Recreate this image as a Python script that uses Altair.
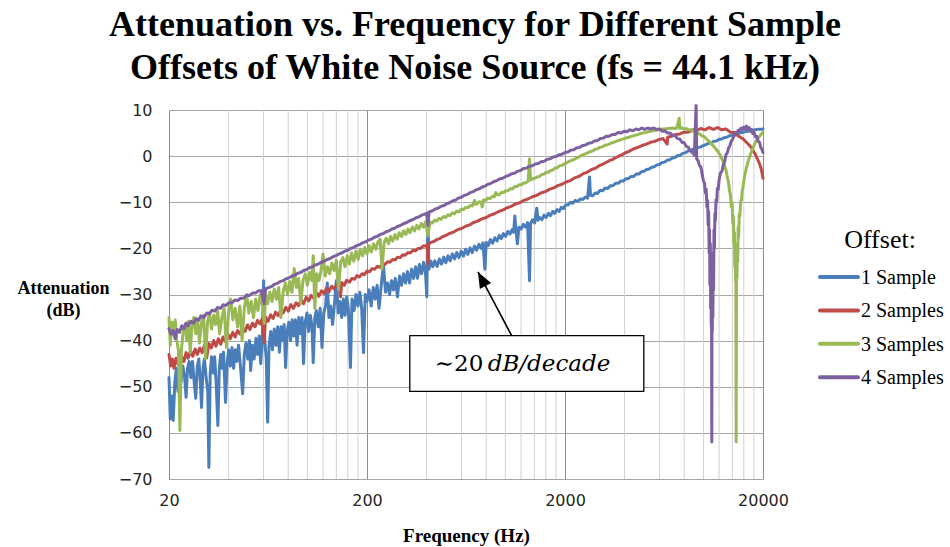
import altair as alt
import pandas as pd

# ---------------------------------------------------------------------------
# Measured attenuation (dB) versus frequency (Hz) for each sample offset
# ---------------------------------------------------------------------------
SERIES = ["1 Sample", "2 Samples", "3 Samples", "4 Samples"]
COLORS = ["#4A7EBB", "#BE4B48", "#98B954", "#7D60A0"]

OFFSET_1 = [
    (20, -48), (20.3, -57), (20.7, -52), (21.0, -57.3), (21.4, -49), (21.8, -46),
    (22.2, -51), (22.6, -46.5), (23.0, -49), (23.5, -45.5), (24.0, -48), (24.4, -52.3),
    (24.8, -46), (25.3, -44.5), (25.8, -48), (26.3, -44.5), (26.8, -49), (27.3, -52.5),
    (27.8, -45.5), (28.3, -44), (28.8, -49), (29.2, -54.5), (29.7, -46), (30.2, -44),
    (30.8, -48), (31.4, -51), (31.8, -67.5), (32.3, -47), (32.8, -43.5), (33.4, -47),
    (34.0, -43.5), (34.6, -49), (35.3, -58.4), (35.9, -46), (36.5, -43), (37.1, -46),
    (37.7, -42.5), (38.6, -53.4), (39.3, -45), (40.0, -42), (40.8, -45.5), (41.6, -41.5),
    (42.4, -46), (43.2, -42), (44.0, -44.5), (44.9, -41), (46.0, -46), (47.1, -51.5),
    (48.0, -43), (49.0, -40.5), (50.0, -44), (51.0, -40), (51.7, -46.5), (52.7, -41),
    (53.8, -44), (55.0, -39.5), (56.0, -43), (57.2, -39), (58.1, -45), (59.2, -39.5),
    (60.1, -27), (60.9, -40), (62.0, -44), (63.0, -57.7), (64.0, -41), (65.3, -38),
    (66.6, -42), (68.0, -37.5), (69.4, -41), (70.8, -37), (72.2, -42.5), (73.6, -37),
    (75.0, -40), (76.3, -36.5), (77.6, -45.8), (79.0, -38), (80.6, -36), (82.2, -40),
    (83.8, -35.5), (85.4, -39), (87.0, -35.5), (88.7, -41), (90.4, -35), (92.2, -38.5),
    (94.0, -35), (95.6, -45), (97.5, -36), (99.5, -34), (101.5, -38), (103.5, -34.5),
    (105.5, -37), (107, -44.8), (109, -35), (111, -33.5), (113.5, -37), (116, -33),
    (118.5, -41.5), (121, -34), (123.5, -32.5), (126, -27.5), (128.5, -35), (131, -32.5),
    (134, -36.5), (137, -32), (140, -27), (143, -34), (146, -31.5), (149, -35),
    (152, -31), (155, -34.5), (158, -30.5), (161, -33), (165, -45.8), (168, -31),
    (172, -33.5), (176, -30), (180, -32.5), (184, -29.5), (188, -33), (192, -42.6),
    (196, -30), (200, -31.5), (205, -29), (210, -32.5), (215, -28.5), (220, -31),
    (225, -28), (230, -33), (236, -28), (242, -23.4), (248, -29.5), (254, -27.5),
    (260, -30), (266, -27), (272, -29), (278, -26.5), (285, -30.5), (292, -26),
    (299, -28), (306, -25.5), (313, -27.5), (320, -25), (328, -27.5), (336, -24.5),
    (344, -26.5), (352, -24), (360, -26.5), (368, -23.5), (377, -25.5), (386, -23),
    (395, -25.5), (401, -30.5), (406, -12.3), (411, -24.5), (420, -22.8), (430, -24),
    (440, -22.7), (452, -23.9), (464, -22.3), (476, -23.4), (488, -21.9), (500, -23.1),
    (513, -21.6), (526, -22.7), (540, -21.2), (554, -22.3), (568, -20.9), (583, -22.0),
    (598, -20.6), (614, -21.7), (630, -20.2), (646, -21.3), (663, -19.9), (680, -20.9),
    (698, -19.5), (716, -20.4), (735, -19.1), (755, -20.0), (770, -18.8), (788, -24.5),
    (800, -18.7), (820, -19.4), (840, -18.1), (862, -18.9), (884, -17.7), (907, -18.4),
    (930, -17.2), (954, -17.9), (978, -16.8), (1003, -17.4), (1029, -16.3), (1055, -16.9),
    (1082, -15.9), (1100, -16.5), (1116, -13), (1130, -16), (1150, -19), (1170, -15.4),
    (1200, -15.8), (1230, -14.8), (1262, -15.4), (1294, -14.4), (1324, -27), (1340, -14.6),
    (1370, -13.8), (1405, -14.5), (1441, -11.3), (1460, -13.9), (1490, -13.3), (1528, -13.8),
    (1567, -12.8), (1607, -13.3), (1648, -12.4), (1690, -12.9), (1733, -12.0), (1777, -12.4),
    (1822, -11.6), (1868, -12), (1915, -11.1), (1963, -11.4), (2013, -10.6), (2070, -10.6),
    (2130, -10.0), (2190, -10.2), (2250, -9.6), (2320, -9.8), (2390, -9.3), (2460, -9.4),
    (2530, -8.9), (2600, -9.1), (2660, -4.5), (2690, -8.5), (2760, -8.6), (2840, -8.0),
    (2920, -8.1), (3010, -7.4), (3100, -7.5), (3190, -6.9), (3290, -7.0), (3390, -6.4),
    (3490, -6.4), (3600, -5.9), (3710, -5.9), (3820, -5.4), (3940, -5.4), (4060, -4.9),
    (4180, -4.9), (4310, -4.4), (4440, -4.4), (4580, -3.9), (4720, -3.9), (4860, -3.4),
    (5010, -3.3), (5160, -2.9), (5320, -2.8), (5480, -2.4), (5650, -2.3), (5820, -1.9),
    (6000, -1.8), (6180, -1.4), (6370, -1.3), (6560, -0.9), (6760, -0.8), (6970, -0.4),
    (7180, -0.3), (7400, 0.1), (7630, 0.2), (7860, 0.6), (8100, 0.7), (8350, 1.1),
    (8600, 1.2), (8870, 1.5), (9140, 1.6), (9420, 1.9), (9700, 2.0), (10000, 2.3),
    (10300, 2.5), (10620, 2.8), (10950, 2.9), (11280, 3.2), (11630, 3.3), (11980, 3.6),
    (12350, 3.7), (12730, 4.0), (13120, 4.1), (13520, 4.4), (13930, 4.5), (14360, 4.7),
    (14800, 4.8), (15250, 5.0), (15720, 5.1), (16200, 5.3), (16700, 5.4), (17210, 5.5),
    (17740, 5.6), (18280, 5.7), (18840, 5.8), (19420, 5.8), (20000, 5.9),
]

OFFSET_2 = [
    (20, -43), (20.4, -45.5), (20.8, -44), (21.2, -46), (21.7, -43.8), (22.2, -45),
    (22.7, -46), (23.2, -43.5), (23.8, -44.5), (24.4, -42.6), (25, -43.8), (25.7, -42.2),
    (26.4, -43.4), (27.1, -41.8), (27.8, -43), (28.6, -41.6), (29.4, -42.6), (30.2, -41),
    (31, -43.8), (31.8, -40.6), (32.7, -41.6), (33.6, -40), (34.5, -41.2), (35.5, -39.6),
    (36.5, -40.8), (37.5, -39.2), (38.6, -40.2), (39.7, -38.6), (40.8, -39.6), (42, -38.2),
    (43.2, -39.2), (44.4, -37.8), (45.7, -38.6), (47, -37.2), (48.4, -38), (49.8, -36.6),
    (51.3, -37.6), (52.8, -36.2), (54.4, -37), (56, -35.6), (57.6, -36.4), (59.3, -35.2),
    (60.5, -40.4), (61.5, -34.8), (63.3, -35.8), (65.2, -34.4), (67.1, -35.2), (69.1, -33.8),
    (71.2, -34.6), (73.3, -33.4), (75.5, -34), (77.8, -32.8), (80.1, -33.6), (82.5, -32.2),
    (85, -33), (87.6, -31.8), (90.2, -32.4), (92.9, -31.2), (95.7, -32), (98.6, -30.6),
    (101.5, -31.4), (104.5, -30.2), (107.7, -30.8), (110.9, -29.6), (114.2, -30.4),
    (117.7, -29.2), (121.2, -29.8), (124.8, -28.6), (128.6, -29.4), (132.5, -28.2),
    (136.4, -28.8), (140.5, -27.8), (144.7, -28.4), (147, -30.5), (149, -27.4),
    (153.5, -28), (158, -26.9), (163, -27.3), (168, -26.5), (173, -26.7), (178, -25.9),
    (183, -26.2), (189, -25.5), (194, -25.7), (200, -24.9), (206, -25.1), (212, -24.4),
    (219, -24.5), (225, -23.9), (232, -24.1), (239, -23.4), (246, -23.5), (254, -22.9),
    (261, -23), (269, -22.4), (277, -22.5), (286, -21.9), (294, -22), (303, -21.4),
    (312, -21.5), (322, -20.9), (331, -21), (341, -20.4), (352, -20.5), (362, -20.0),
    (373, -20), (384, -19.5), (396, -19.5), (403, -19.2), (406, -23.4), (410, -19),
    (420, -18.7), (435, -18.5), (450, -18.1), (465, -17.9), (480, -17.5), (500, -17.2),
    (520, -16.8), (545, -16.5), (570, -16.0), (600, -15.7), (630, -15.2), (660, -14.9),
    (690, -14.4), (725, -14.1), (760, -13.6), (800, -13.3), (840, -12.8), (880, -12.5),
    (925, -12.0), (970, -11.7), (1020, -11.2), (1070, -10.9), (1120, -10.4), (1180, -10.1),
    (1240, -9.6), (1300, -9.3), (1370, -8.8), (1440, -8.5), (1510, -8.0), (1590, -7.7),
    (1670, -7.2), (1750, -6.9), (1840, -6.4), (1930, -6.1), (2030, -5.6), (2130, -5.3),
    (2240, -4.7), (2350, -4.4), (2470, -3.8), (2590, -3.5), (2720, -2.9), (2860, -2.6),
    (3000, -2.0), (3150, -1.6), (3310, -1.1), (3480, -0.7), (3650, -0.2), (3840, 0.2),
    (4030, 0.7), (4230, 1.1), (4450, 1.6), (4670, 1.9), (4900, 2.3), (5150, 2.6),
    (5400, 3.0), (5670, 3.2), (5960, 3.6), (6260, 3.8), (6566, 2.6), (6600, 4.1),
    (6900, 4.3), (7250, 4.7), (7600, 4.8), (7980, 5.2), (8380, 5.2), (8800, 5.7),
    (9240, 5.5), (9700, 6.0), (10190, 5.7), (10700, 6.2), (11230, 5.8), (11790, 6.2),
    (12380, 5.7), (13000, 5.9), (13650, 5.2), (14330, 5.1), (15050, 4.3), (15800, 3.8),
    (16590, 2.9), (17420, 1.9), (18290, 0.4), (19200, -1.6), (19600, -2.8), (20000, -4.8),
]

OFFSET_3 = [
    (20, -35), (20.3, -41), (20.7, -36), (21.1, -38), (21.5, -35.5), (21.9, -40),
    (22.3, -42), (22.7, -59.5), (23.1, -42), (23.6, -38), (24.1, -36.5), (24.6, -40),
    (25.1, -35.8), (25.6, -42.6), (26.1, -37), (26.7, -35), (27.3, -38.5), (27.9, -35.5),
    (28.5, -40.5), (29.2, -36), (29.9, -34.5), (30.6, -43.9), (31.3, -36), (32, -34),
    (32.8, -37.5), (33.6, -34.5), (34.4, -36.5), (35.2, -33.5), (36, -38.5), (37, -35),
    (38, -33), (39, -41.5), (40, -33.5), (41, -31), (42, -35.5), (43.2, -33),
    (44.4, -37), (45.6, -32.5), (46.8, -40), (48, -33), (49.3, -30), (50.6, -34),
    (52, -31.5), (53.4, -35), (54.8, -31), (56.3, -33.5), (57.8, -30), (59.4, -32.5),
    (60.5, -36.3), (61.5, -30), (63, -32), (64.6, -29.5), (66.3, -31.5), (68, -28.8),
    (69.8, -31), (71.6, -28.5), (73.5, -35), (75.4, -29.5), (77.4, -27.5), (79.4, -30),
    (81.5, -27.2), (83.6, -29.5), (85.8, -24.4), (88, -28.5), (90.3, -26.5), (92.6, -32),
    (95, -27), (97.5, -25.5), (100, -28), (102.6, -25.2), (105.3, -27), (107, -21.6),
    (109, -33), (111.5, -25.5), (114.4, -27), (117.4, -24.6), (120, -21.2), (123, -26),
    (126.3, -24), (129.6, -25.5), (133, -23.2), (136.5, -24.8), (140, -22.6), (143.6, -29),
    (147.3, -23), (151, -22), (155, -24), (159, -21.6), (163, -23.4), (167, -21),
    (171.5, -22.8), (176, -20.6), (180.5, -22.4), (185, -20.2), (190, -21.6), (195, -19.8),
    (200, -21.2), (205, -19.4), (210, -20.8), (216, -19), (222, -20.2), (227, -18.6),
    (233, -18), (238, -24.5), (244, -18.8), (250, -17.8), (257, -19), (263, -17.4),
    (270, -18.4), (277, -17), (284, -18), (291, -16.6), (299, -17.4), (306, -16.2),
    (314, -17), (322, -15.8), (330, -16.6), (339, -15.4), (348, -16.2), (357, -15),
    (366, -15.8), (376, -14.6), (386, -15.4), (396, -14.2), (406, -17.3), (416, -14.3),
    (427, -14.5), (438, -13.9), (450, -14.1), (462, -13.5), (474, -13.7), (486, -13.1),
    (499, -13.3), (512, -12.7), (525, -12.9), (539, -12.3), (553, -12.5), (568, -11.9),
    (583, -12.1), (598, -11.5), (614, -11.6), (630, -11.1), (646, -11.2), (663, -10.7),
    (681, -10.8), (699, -9.6), (705, -10.4), (717, -10.4), (736, -9.9), (755, -10.0),
    (763, -11.0), (775, -9.5), (795, -9.6), (816, -9.1), (838, -9.2), (860, -8.7),
    (882, -8.8), (893, -7.9), (905, -8.3), (929, -8.4), (954, -7.9), (979, -7.9),
    (1005, -7.5), (1031, -7.5), (1058, -7.1), (1086, -7.1), (1115, -6.6), (1144, -6.6),
    (1174, -6.2), (1205, -6.2), (1237, -5.8), (1269, -5.8), (1303, -5.4), (1324, -0.6),
    (1340, -5.2), (1375, -4.9), (1411, -4.8), (1448, -4.5), (1486, -4.4), (1525, -4.0),
    (1565, -3.9), (1607, -3.5), (1649, -3.5), (1692, -3.1), (1737, -3.0), (1783, -2.6),
    (1830, -2.5), (1878, -2.1), (1927, -2.0), (1978, -1.7), (2030, -1.5), (2084, -1.2),
    (2139, -1.0), (2195, -0.8), (2253, -0.6), (2312, -0.3), (2373, -0.1), (2436, 0.2),
    (2500, 0.4), (2566, 0.6), (2633, 0.8), (2703, 1.0), (2774, 1.2), (2847, 1.5),
    (2922, 1.6), (3000, 1.9), (3080, 2.0), (3160, 2.3), (3240, 2.4), (3330, 2.6),
    (3420, 2.8), (3510, 3.0), (3600, 3.1), (3700, 3.4), (3800, 3.5), (3900, 3.7),
    (4000, 3.8), (4110, 4.0), (4220, 4.1), (4330, 4.3), (4450, 4.4), (4570, 4.6),
    (4690, 4.7), (4810, 4.9), (4940, 5.0), (5070, 5.1), (5210, 5.2), (5350, 5.4),
    (5490, 5.4), (5640, 5.6), (5790, 5.6), (5940, 5.8), (6100, 5.8), (6260, 5.9),
    (6430, 5.9), (6600, 6.0), (6780, 6.0), (6960, 6.1), (7150, 6.0), (7340, 6.1),
    (7550, 8.2), (7600, 6.0), (7750, 6.2), (7960, 5.9), (8170, 6.0), (8390, 5.7),
    (8620, 5.7), (8850, 5.4), (9090, 5.3), (9330, 5.0), (9580, 4.8), (9840, 4.4),
    (10100, 4.2), (10370, 3.7), (10650, 3.3), (10940, 2.8), (11230, 2.2), (11530, 1.6),
    (11840, 1.0), (12160, 0.2), (12490, -0.9), (12820, -2.1), (13000, -3), (13200, -4.5),
    (13380, -5.6), (13550, -7.5), (13700, -8.5), (13840, -11), (13960, -10), (14070, -14.5),
    (14170, -13), (14260, -19), (14340, -16.5), (14410, -24), (14470, -20), (14530, -27),
    (14580, -23), (14640, -62), (14680, -27), (14730, -22), (14780, -26.5), (14830, -19),
    (14900, -23), (14980, -15.5), (15070, -17.5), (15180, -12.5), (15300, -13), (15430, -9.8),
    (15570, -9.5), (15720, -7.4), (15880, -6.5), (16050, -5), (16250, -3.8), (16500, -2.5),
    (16750, -1.4), (17000, -0.5), (17250, 0.3), (17500, 1), (17800, 1.8), (18100, 2.5),
    (18400, 3.1), (18700, 3.6), (19000, 4), (19300, 4.4), (19650, 4.8), (20000, 5.2),
]

OFFSET_4 = [
    (20, -37.4), (20.5, -38.6), (21, -37.8), (21.5, -39.6), (22, -37.6), (22.6, -38.2),
    (23.2, -36.8), (23.8, -37.4), (24.4, -36.2), (25, -36.8), (25.8, -35.8), (26.6, -36.2),
    (27.4, -35.2), (28.2, -35.6), (29, -34.6), (30, -35), (31, -34), (32, -34.2),
    (33, -33.4), (34, -33.6), (35.2, -32.8), (36.4, -33), (37.6, -32.2), (38.8, -32.4),
    (40, -31.8), (41.5, -31.8), (43, -31.2), (44.5, -31.3), (46, -30.8), (47.6, -30.8),
    (49.3, -30.2), (51, -30.2), (52.8, -29.7), (54.6, -29.7), (56.5, -29.2), (58.5, -29.2),
    (60.5, -32), (61.5, -28.8), (63.6, -28.5), (65.8, -28.3), (68, -27.8), (70.4, -27.6),
    (72.8, -27.2), (75.3, -27), (78, -26.6), (80.7, -26.4), (83.5, -26), (86.4, -25.8),
    (89.4, -25.4), (92.5, -25.2), (95.7, -24.8), (99, -24.6), (102.5, -24.2), (106, -24),
    (109.7, -23.6), (113.5, -23.4), (117.5, -23), (121.6, -22.8), (125.8, -22.4),
    (130.2, -22.2), (134.7, -21.8), (139.4, -21.6), (144.3, -21.2), (149.3, -21),
    (154.5, -20.6), (160, -20.4), (165.5, -20), (171.3, -19.8), (177.2, -19.4),
    (183.4, -19.2), (189.8, -18.8), (196.4, -18.6), (203.3, -18.2), (210.4, -18),
    (217.7, -17.6), (225.3, -17.4), (233.2, -17), (241.3, -16.8), (249.7, -16.4),
    (258.4, -16.2), (267.4, -15.8), (276.8, -15.6), (286.4, -15.2), (296.4, -15),
    (306.8, -14.6), (317.5, -14.4), (328.5, -14), (340, -13.8), (351.9, -13.4),
    (364.2, -13.2), (376.9, -12.8), (390, -12.6), (400, -12.4), (406, -15), (412, -12.1),
    (426, -11.9), (441, -11.5), (456, -11.3), (472, -10.9), (489, -10.7), (506, -10.3),
    (523, -10.1), (542, -9.7), (561, -9.5), (580, -9.1), (600, -8.9), (621, -8.5),
    (643, -8.3), (665, -7.9), (688, -7.7), (712, -7.3), (737, -7.1), (763, -6.7),
    (790, -6.5), (817, -6.1), (846, -5.9), (875, -5.5), (906, -5.3), (938, -4.9),
    (970, -4.8), (1004, -4.4), (1039, -4.2), (1076, -3.8), (1113, -3.7), (1152, -3.3),
    (1193, -3.1), (1234, -2.7), (1277, -2.6), (1322, -2.2), (1368, -2.1), (1416, -1.7),
    (1466, -1.6), (1517, -1.2), (1570, -1.1), (1625, -0.7), (1682, -0.6), (1741, -0.2),
    (1802, -0.1), (1865, 0.3), (1930, 0.4), (1998, 0.8), (2068, 0.9), (2140, 1.3),
    (2215, 1.4), (2292, 1.8), (2372, 1.9), (2455, 2.3), (2541, 2.4), (2630, 2.8),
    (2722, 2.9), (2818, 3.3), (2916, 3.4), (3018, 3.8), (3124, 3.9), (3233, 4.3),
    (3346, 4.3), (3463, 4.7), (3585, 4.7), (3710, 5.1), (3840, 5), (3974, 5.4),
    (4113, 5.3), (4257, 5.7), (4406, 5.5), (4560, 5.9), (4720, 5.7), (4885, 6.1),
    (5056, 5.8), (5233, 6.1), (5416, 5.9), (5605, 6.1), (5800, 5.8), (6000, 5.9),
    (6200, 5.4), (6400, 5.5), (6600, 5), (6800, 5), (7000, 4.5), (7200, 4.4),
    (7400, 3.8), (7600, 3.7), (7800, 3), (8000, 2.9), (8200, 2.1), (8400, 1.9),
    (8600, 1.1), (8800, 0.8), (9000, 0.2), (9185, 11), (9250, -0.6), (9400, -1),
    (9550, -2), (9700, -2.3), (9850, -3.8), (10000, -5.4), (10120, -5.8), (10230, -8),
    (10330, -7.2), (10420, -11), (10500, -9.6), (10570, -15), (10630, -12), (10690, -21),
    (10740, -16), (10790, -28), (10840, -19), (10880, -33), (10920, -24), (10960, -37),
    (10995, -30), (11025, -62), (11055, -31), (11090, -38), (11130, -25), (11170, -35),
    (11210, -21), (11260, -29), (11310, -16), (11370, -20), (11430, -12.5), (11500, -14),
    (11580, -9.5), (11670, -10), (11770, -7), (11880, -7.2), (12000, -5.2), (12200, -3.6),
    (12400, -3.3), (12600, -1.9), (12800, -1.2), (13000, 0.3), (13200, 0.7), (13400, 1.8),
    (13600, 2.2), (13800, 3.2), (14000, 3.5), (14200, 4.2), (14400, 4.5), (14600, 5.1),
    (14800, 5.1), (15000, 5.6), (15250, 5.5), (15500, 6.1), (15750, 5.8), (16000, 6.3),
    (16250, 5.9), (16500, 6.5), (16750, 5.8), (17000, 6.2), (17250, 5.4), (17500, 5.8),
    (17750, 4.9), (18000, 5.2), (18300, 4.2), (18600, 4.3), (18900, 3.2), (19200, 3),
    (19500, 1.9), (19750, 1.5), (20000, 0.8),
]

# Axis ranges and gridlines
F_MIN, F_MAX = 20, 20000
DB_MIN, DB_MAX = -70, 10
MAJOR_F = [20, 200, 2000, 20000]
MINOR_F = [m * d for d in (20, 200, 2000) for m in range(2, 10)]
DB_TICKS = list(range(DB_MIN, DB_MAX + 1, 10))

# Slope annotation (frequency / dB coordinates)
NOTE_BOX = {"f0": 329, "f1": 5000, "d0": -38.9, "d1": -51.0}
NOTE_Y = -45.1
NOTE_PREFIX = ("\u223c20", 440)
NOTE_UNITS = ("dB/decade", 814)
ARROW = {"f0": 1072, "d0": -38.8, "f1": 727, "d1": -25.1}

# ---------------------------------------------------------------------------
rows = []
for name, pts in zip(SERIES, [OFFSET_1, OFFSET_2, OFFSET_3, OFFSET_4]):
    for f, v in pts:
        rows.append({"series": name, "freq": f, "db": v})
df = pd.DataFrame(rows)

W, H = 594, 369
SERIF = "Liberation Serif"
SANS = "DejaVu Sans"

x_scale = alt.Scale(type="log", domain=[F_MIN, F_MAX], nice=False)
y_scale = alt.Scale(domain=[DB_MIN, DB_MAX], nice=False, zero=False)

# One axis definition shared by every layer so the merged axis stays visible
x_axis = alt.Axis(
    values=MAJOR_F, format="d", title="Frequency (Hz)",
    grid=True, gridColor="#8c8c8c", gridWidth=1,
    domain=False, ticks=False, labelFlush=False, labelOverlap=False, labelBound=False,
    labelFont=SANS, labelFontSize=16, labelColor="#262626", labelPadding=13,
    titleFont=SERIF, titleFontWeight="bold", titleFontSize=19, titleColor="black",
    titleBaseline="middle", titleY=56,
)
y_axis = alt.Axis(
    values=DB_TICKS, title=["Attenuation", "(dB)"],
    grid=True, gridColor="#a6a6a6", gridWidth=1,
    domain=False, ticks=False, labelFlush=False, labelOverlap=False,
    labelFont=SANS, labelFontSize=16, labelColor="#262626", labelPadding=17,
    titleFont=SERIF, titleFontWeight="bold", titleFontSize=18, titleColor="black",
    titleAngle=0, titleAlign="center", titleBaseline="middle",
    titleX=-106, titleY=178, titleLineHeight=22,
)


def fx(field):
    return alt.X(field, scale=x_scale, axis=x_axis)


def fy(field):
    return alt.Y(field, scale=y_scale, axis=y_axis)


minor_grid = alt.Chart(pd.DataFrame({"freq": MINOR_F})).mark_rule(
    color="#d0d0d0", strokeWidth=1
).encode(x=fx("freq:Q"), y=alt.value(0), y2=alt.value(H))

lines = alt.Chart(df).mark_line(strokeWidth=3, strokeJoin="round", strokeCap="round").encode(
    x=fx("freq:Q"),
    y=fy("db:Q"),
    color=alt.Color("series:N", scale=alt.Scale(domain=SERIES, range=COLORS), legend=None),
)

box = alt.Chart(pd.DataFrame([NOTE_BOX])).mark_rect(
    fill="white", stroke="black", strokeWidth=1.3
).encode(x=fx("f0:Q"), x2="f1:Q", y=fy("d0:Q"), y2="d1:Q")

note_prefix = alt.Chart(pd.DataFrame([{"t": NOTE_PREFIX[0], "f": NOTE_PREFIX[1], "d": NOTE_Y}])).mark_text(
    font="DejaVu Serif", fontSize=23, align="left", baseline="middle", color="black"
).encode(x=fx("f:Q"), y=fy("d:Q"), text="t:N")

note_units = alt.Chart(pd.DataFrame([{"t": NOTE_UNITS[0], "f": NOTE_UNITS[1], "d": NOTE_Y}])).mark_text(
    font="DejaVu Serif", fontSize=23, fontStyle="italic", align="left", baseline="middle", color="black"
).encode(x=fx("f:Q"), y=fy("d:Q"), text="t:N")

arrow_shaft = alt.Chart(pd.DataFrame([ARROW])).mark_rule(color="black", strokeWidth=1.6).encode(
    x=fx("f0:Q"), x2="f1:Q", y=fy("d0:Q"), y2="d1:Q"
)
arrow_head = alt.Chart(pd.DataFrame([ARROW])).mark_point(
    shape="M0,0L0.8,2L-0.8,2Z", size=256, filled=True, color="black", opacity=1, angle=332
).encode(x=fx("f1:Q"), y=fy("d1:Q"))

# Legend drawn beside the plot
legend_layers = [
    alt.Chart(pd.DataFrame({"t": ["Offset:"]})).mark_text(
        font=SERIF, fontSize=26, align="center", baseline="alphabetic", color="black"
    ).encode(x=alt.value(711), y=alt.value(138), text="t:N")
]
for i, (name, col) in enumerate(zip(SERIES, COLORS)):
    yy = 167 + 33.4 * i
    legend_layers.append(
        alt.Chart(pd.DataFrame({"t": [name]})).mark_rule(
            color=col, strokeWidth=4, strokeCap="round"
        ).encode(x=alt.value(651), x2=alt.value(689), y=alt.value(yy))
    )
    legend_layers.append(
        alt.Chart(pd.DataFrame({"t": [name]})).mark_text(
            font=SERIF, fontSize=20, align="left", baseline="middle", color="black"
        ).encode(x=alt.value(692), y=alt.value(yy + 1), text="t:N")
    )

chart = alt.layer(
    minor_grid, lines, box, note_prefix, note_units, arrow_shaft, arrow_head, *legend_layers
).properties(
    width=W,
    height=H,
    autosize="none",
    padding={"left": 169, "top": 110, "right": 187, "bottom": 68},
    background="white",
    title=alt.TitleParams(
        text=["Attenuation vs. Frequency for Different Sample",
              "Offsets of White Noise Source (fs = 44.1 kHz)"],
        font=SERIF, fontSize=36, fontWeight="bold", color="black",
        anchor="middle", dx=9, lineHeight=43, offset=15,
    ),
).configure_view(stroke=None)

chart.save("out.html", embed_options={"renderer": "svg", "actions": False})
